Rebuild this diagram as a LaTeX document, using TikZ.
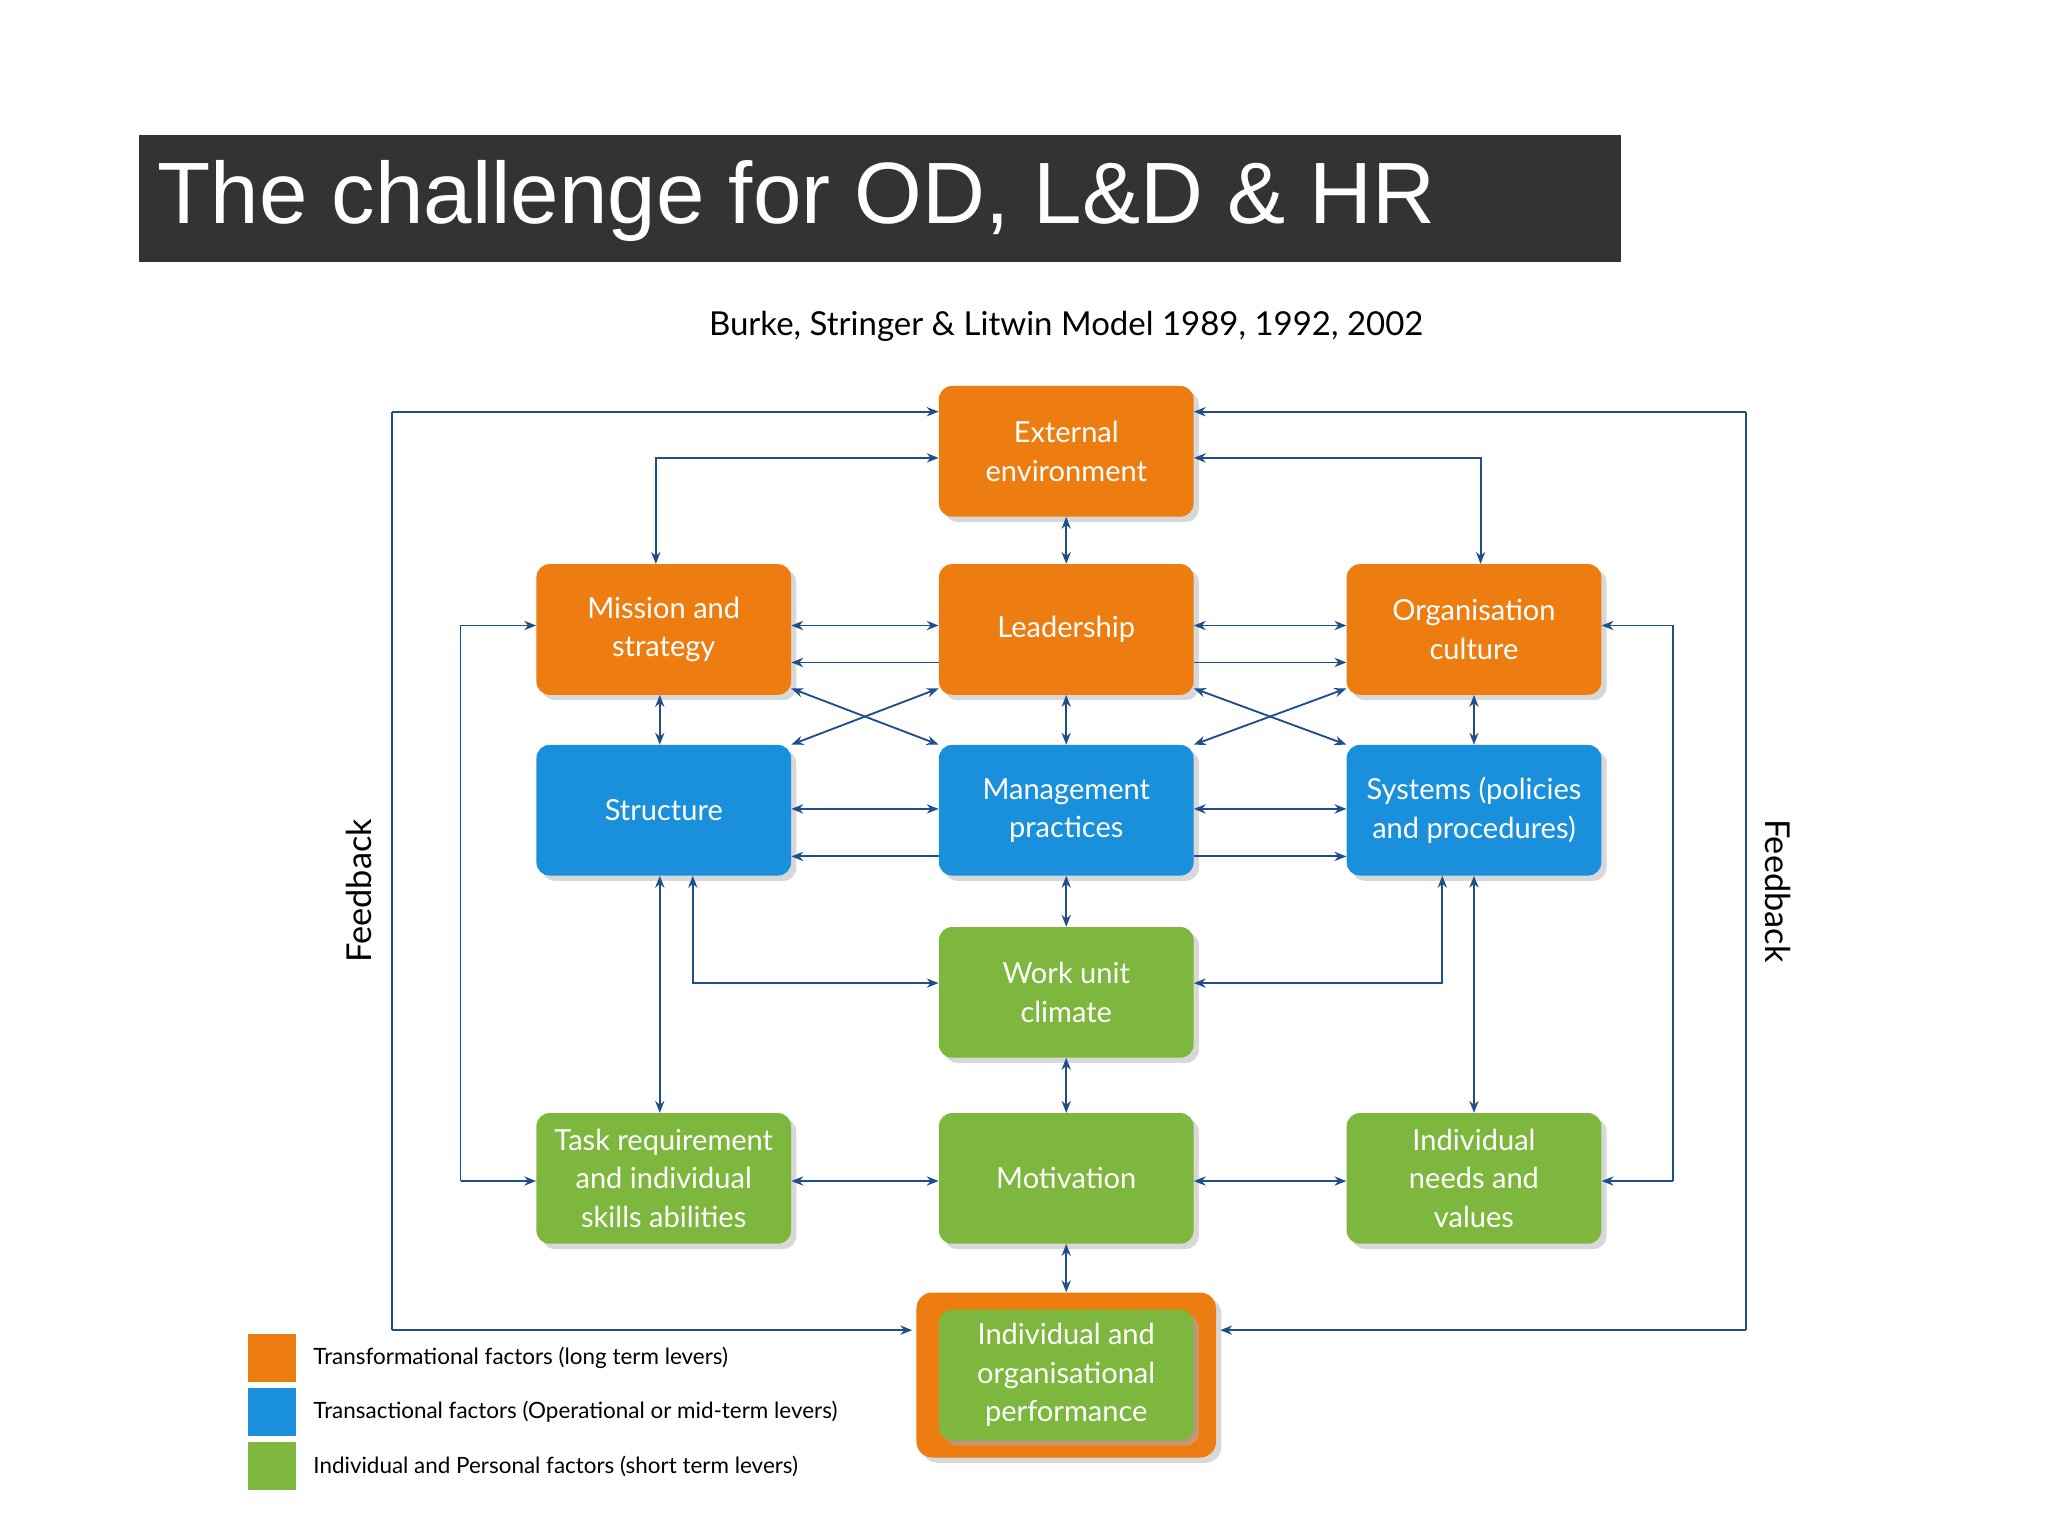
\documentclass[tikz,border=0pt]{standalone}
\usepackage{fontspec}
\setmainfont{Lato}
\newfontfamily\titlefont{Liberation Sans}
\usetikzlibrary{calc,arrows.meta,shadows}
\definecolor{or}{HTML}{EE7D11}
\definecolor{bl}{HTML}{1A8FDB}
\definecolor{gr}{HTML}{7DB73E}
\definecolor{nv}{HTML}{1F4E8C}
\tikzset{
 box/.style={rounded corners=10pt,minimum width=193pt,minimum height=99pt,align=center,text=white,font=\fontsize{22}{29}\selectfont,drop shadow={shadow xshift=4pt,shadow yshift=-4pt,fill=gray!60}},
 ob/.style={box,fill=or},
 bb/.style={box,fill=bl},
 gb/.style={box,fill=gr},
 arr/.style={draw=nv,line width=1.4pt,-{Stealth[length=9pt,width=7pt]}},
 darr/.style={draw=nv,line width=1.4pt,{Stealth[length=9pt,width=7pt]}-{Stealth[length=9pt,width=7pt]}},
 line/.style={draw=nv,line width=1.4pt},
}
\begin{document}
\begin{tikzpicture}[x=1pt,y=-1pt]
\useasboundingbox[fill=white] (0,0) rectangle (1552,1164);
\node[fill=black!80,minimum width=1123pt,minimum height=96pt,anchor=north west,inner sep=0] (tb) at (105,102) {};
\node[anchor=west,text=white,font=\titlefont\fontsize{66}{70}\selectfont] (title) at (116,152) {The challenge for OD, L\&D \& HR};
\node[font=\fontsize{25}{30}\selectfont] (sub) at (808,247) {Burke, Stringer \& Litwin Model 1989, 1992, 2002};

\node[ob] (ext) at (808,342) {External\\environment};
\node[ob] (ms) at (503,477) {Mission and\\strategy};
\node[ob] (lead) at (808,477) {Leadership};
\node[ob] (oc) at (1117,477) {Organisation\\culture};
\node[bb] (st) at (503,614) {Structure};
\node[bb] (mp) at (808,614) {Management\\practices};
\node[bb] (sy) at (1117,614) {Systems (policies\\and procedures)};
\node[gb] (wu) at (808,752) {Work unit\\climate};
\node[gb] (tr) at (503,893) {Task requirement\\and individual\\skills abilities};
\node[gb] (mo) at (808,893) {Motivation};
\node[gb] (in) at (1117,893) {Individual\\needs and\\values};
\node[fill=or,rounded corners=12pt,minimum width=227pt,minimum height=125pt,drop shadow={shadow xshift=4pt,shadow yshift=-4pt,fill=gray!60}] (perfo) at (808,1042) {};
\node[box,fill=gr,drop shadow={shadow xshift=2pt,shadow yshift=-2pt,fill=black!40}] (perf) at (808,1042) {Individual and\\organisational\\performance};

% verticals
\draw[darr] (ext) -- (lead);
\draw[darr] (lead) -- (mp);
\draw[darr] (mp) -- (wu);
\draw[darr] (wu) -- (mo);
\draw[darr] (mo) -- (perfo);
\draw[darr] ($(ms.south)+(-3,0)$) -- ($(st.north)+(-3,0)$);
\draw[darr] (oc) -- (sy);
\draw[darr] ($(st.south)+(-3,0)$) -- ($(tr.north)+(-3,0)$);
\draw[darr] (sy) -- (in);
% horizontals
\draw[darr] ($(ms.east)+(0,-3)$) -- ($(lead.west)+(0,-3)$);
\draw[arr] ($(lead.west)+(0,25)$) -- ($(ms.east)+(0,25)$);
\draw[darr] ($(lead.east)+(0,-3)$) -- ($(oc.west)+(0,-3)$);
\draw[arr] ($(lead.east)+(0,25)$) -- ($(oc.west)+(0,25)$);
\draw[darr] ($(st.east)+(0,-1)$) -- ($(mp.west)+(0,-1)$);
\draw[arr] ($(mp.west)+(0,35)$) -- ($(st.east)+(0,35)$);
\draw[darr] ($(mp.east)+(0,-1)$) -- ($(sy.west)+(0,-1)$);
\draw[arr] ($(mp.east)+(0,35)$) -- ($(sy.west)+(0,35)$);
\draw[darr] ($(tr.east)+(0,2)$) -- ($(mo.west)+(0,2)$);
\draw[darr] ($(mo.east)+(0,2)$) -- ($(in.west)+(0,2)$);
% crosses
\draw[darr] ($(ms.south east)+(0,-5)$) -- ($(mp.north west)+(0,0)$);
\draw[darr] ($(lead.south west)+(0,-5)$) -- ($(st.north east)+(0,0)$);
\draw[darr] ($(lead.south east)+(0,-5)$) -- ($(sy.north west)+(0,0)$);
\draw[darr] ($(oc.south west)+(0,-5)$) -- ($(mp.north east)+(0,0)$);
% ext to mission / culture
\draw[darr] ($(ms.north)+(-6,0)$) |- ($(ext.west)+(0,5)$);
\draw[darr] ($(oc.north)+(5,0)$) |- ($(ext.east)+(0,5)$);
% structure/systems to work unit
\draw[darr] ($(st.south)+(22,0)$) |- ($(wu.west)+(0,-7)$);
\draw[darr] ($(sy.south)+(-24,0)$) |- ($(wu.east)+(0,-7)$);
% inner feedback
\draw[line,{Stealth[length=9pt,width=7pt]}-] ($(ms.west)+(0,-3)$) -- (349,474) -- (349,895);
\draw[arr] (349,895) -- ($(tr.west)+(0,2)$);
\draw[line,{Stealth[length=9pt,width=7pt]}-] ($(oc.east)+(0,-3)$) -- (1268,474) -- (1268,895);
\draw[arr] (1268,895) -- ($(in.east)+(0,2)$);
% outer feedback
\draw[line] (297,1008) -- (297,312);
\draw[arr] (297,312) -- ($(ext.west)+(0,-30)$);
\draw[arr] (297,1008) -- ($(perfo.west)+(-3,-34)$);
\draw[line] (1323,1008) -- (1323,312);
\draw[arr] (1323,312) -- ($(ext.east)+(0,-30)$);
\draw[arr] (1323,1008) -- ($(perfo.east)+(3,-34)$);
\node[rotate=90,font=\fontsize{26}{30}\selectfont] (fbl) at (272,675) {Feedback};
\node[rotate=-90,font=\fontsize{26}{30}\selectfont] (fbr) at (1347,675) {Feedback};
% legend
\node[fill=or,minimum size=36pt,inner sep=0] (l1) at (206,1029) {};
\node[fill=bl,minimum size=36pt,inner sep=0] (l2) at (206,1070) {};
\node[fill=gr,minimum size=36pt,inner sep=0] (l3) at (206,1111) {};
\node[anchor=west,font=\fontsize{17}{20}\selectfont] (t1) at (234,1029) {Transformational factors (long term levers)};
\node[anchor=west,font=\fontsize{17}{20}\selectfont] (t2) at (234,1070) {Transactional factors (Operational or mid-term levers)};
\node[anchor=west,font=\fontsize{17}{20}\selectfont] (t3) at (234,1111) {Individual and Personal factors (short term levers)};
\end{tikzpicture}
\end{document}
